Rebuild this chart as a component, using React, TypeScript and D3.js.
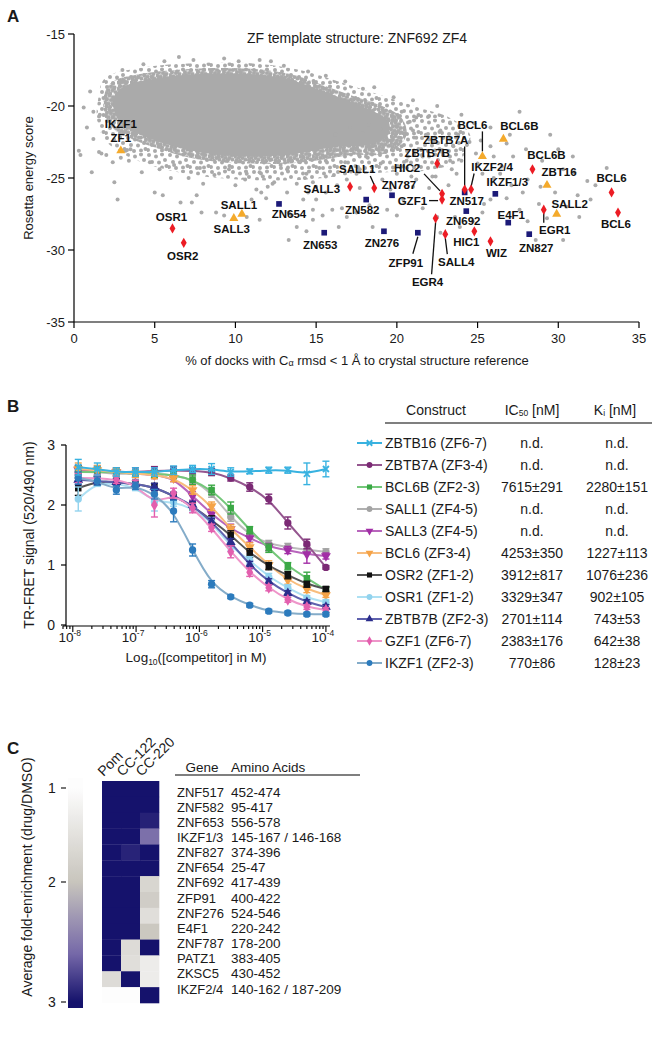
import React from 'react';
import * as d3 from 'd3';

const FONT = '"Liberation Sans", Arial, Helvetica, sans-serif';
const INK = '#1a1a1a';

// ================= Panel A data =================
const A_TITLE = 'ZF template structure: ZNF692 ZF4';
const A_X_TICKS = [0, 5, 10, 15, 20, 25, 30, 35];
const A_Y_TICKS = [-15, -20, -25, -30, -35];

// outline of the solid centre of the decoy cloud (x %, energy)
const DECOY_INNER: [number, number][] = [
  [2.5, -19.3], [3.2, -18.6], [4.5, -18.2], [6.3, -17.9], [8.7, -17.75], [11.2, -17.8], [13.3, -18.15], [15.0, -18.8],
  [16.8, -19.55], [18.4, -20.3], [19.5, -21.1], [19.4, -22.1], [18.2, -22.7], [16.5, -22.8], [14.8, -23.1], [13.2, -23.4],
  [11.2, -23.5], [9.1, -23.4], [7.3, -23.1], [5.6, -22.6], [4.1, -22.0], [3.0, -21.3], [2.5, -20.4],
];
// outline of the densest part of the decoy cloud
const DECOY_CORE: [number, number][] = [
  [1.86, -19.24], [2.35, -18.33], [4.09, -17.78], [6.26, -17.5], [8.74, -17.36], [11.21, -17.43], [13.38, -17.78],
  [15.24, -18.47], [17.1, -19.24], [18.96, -19.93], [20.3, -20.83], [20.6, -22.0], [19.9, -23.0], [18.8, -23.4],
  [17.2, -23.4], [15.55, -23.7], [13.38, -24.0], [11.21, -24.0], [9.05, -23.9], [7.19, -23.6], [5.33, -23.0],
  [3.78, -22.4], [2.54, -21.67], [1.92, -20.63],
];
// outline of the looser halo around it
const DECOY_HALO: [number, number][] = [
  [1.49, -19.58], [1.92, -18.06], [4.09, -17.36], [7.81, -17.01], [11.52, -17.08], [14.0, -17.5], [16.48, -18.33],
  [18.96, -19.24], [21.44, -20.14], [23.3, -20.83], [24.54, -22.01], [23.92, -23.75], [22.06, -24.44], [19.58, -24.58],
  [17.1, -24.79], [14.0, -25.14], [10.9, -25.14], [7.81, -24.86], [5.33, -24.31], [3.16, -23.4], [1.92, -22.36],
  [1.43, -20.97],
];

// scattered decoys outside the dense cloud
const DECOY_POINTS: [number, number][] = [
  [0.3, -23.1], [0.4, -23.4], [0.6, -20.1], [1.1, -24.6], [1.2, -20.4], [1.6, -20.6], [1.55, -23.2], [1.7, -23.3],
  [2.0, -23.4], [2.5, -25.3], [2.7, -26.5], [2.9, -23.6], [3.2, -23.1], [3.5, -23.0], [3.4, -23.8], [4.7, -23.9],
  [5.0, -26.0], [5.3, -24.4], [5.5, -26.2], [6.2, -24.1], [6.6, -26.7], [7.1, -25.0], [7.3, -26.7], [7.6, -26.2],
  [7.8, -24.3], [7.9, -27.4], [8.7, -24.8], [8.8, -27.4], [9.3, -27.6], [9.6, -24.4], [10.6, -25.1], [10.7, -24.7],
  [10.7, -27.7], [11.0, -26.5], [11.3, -25.8], [11.5, -24.6], [11.5, -27.9], [11.6, -26.0], [11.7, -24.9], [11.9, -26.4],
  [12.3, -25.4], [12.4, -25.3], [12.8, -24.1], [13.2, -24.4], [13.2, -26.0], [13.3, -27.4], [13.3, -29.3], [13.5, -27.6],
  [13.8, -25.4], [13.8, -28.4], [14.0, -23.9], [14.2, -26.5], [14.3, -25.0], [14.4, -24.7], [14.4, -28.7], [14.5, -26.0],
  [14.8, -27.2], [14.8, -27.9], [15.0, -25.6], [15.0, -26.5], [15.2, -24.3], [15.4, -27.6], [15.6, -24.9], [15.6, -26.0],
  [15.6, -23.8], [16.0, -27.2], [16.1, -24.8], [16.2, -22.0], [16.3, -25.5], [16.4, -28.4], [16.6, -27.1], [16.8, -23.9],
  [16.9, -25.1], [16.9, -27.7], [17.1, -21.5], [17.2, -23.0], [17.5, -24.7], [17.5, -27.4], [17.7, -23.5], [17.7, -24.4],
  [17.7, -25.7], [17.9, -21.9], [18.2, -23.6], [18.3, -26.9], [18.3, -21.3], [18.5, -22.8], [18.5, -28.4], [19.0, -21.6],
  [19.0, -24.0], [19.1, -25.1], [19.3, -23.2], [19.4, -27.2], [19.6, -22.4], [19.6, -25.8], [19.5, -21.0], [20.0, -21.4],
  [20.0, -24.7], [20.0, -27.6], [20.3, -20.4], [20.3, -22.8], [20.4, -21.9], [20.4, -24.2], [20.4, -26.5], [20.6, -23.8],
  [20.8, -21.1], [21.0, -21.7], [21.0, -25.6], [21.2, -20.8], [21.2, -22.2], [21.2, -25.1], [21.5, -23.0], [21.6, -23.5],
  [21.6, -27.1], [21.8, -22.0], [22.0, -20.7], [22.0, -25.7], [22.2, -24.9], [22.3, -22.5], [22.5, -27.7], [22.7, -21.7],
  [22.7, -28.8], [22.8, -23.2], [23.2, -25.5], [23.3, -21.2], [23.3, -23.8], [23.5, -22.8], [23.6, -27.7], [23.7, -24.7],
  [23.8, -22.0], [23.9, -28.4], [24.0, -23.8], [24.5, -22.5], [24.7, -28.0], [25.0, -24.0], [25.3, -24.7], [25.3, -27.4],
  [25.4, -26.8], [25.8, -21.5], [25.8, -22.8], [25.8, -26.5], [26.0, -23.5], [26.0, -25.0], [26.4, -24.7], [26.5, -24.2],
  [26.8, -22.6], [26.8, -26.4], [27.0, -22.0], [27.1, -25.5], [27.2, -23.5], [27.6, -20.4], [27.6, -27.2], [27.8, -26.0],
  [28.0, -23.0], [28.1, -25.1], [28.1, -28.0], [28.6, -29.3], [28.8, -26.8], [28.9, -25.6], [29.0, -23.8], [29.3, -27.8],
  [29.5, -22.0], [29.8, -26.0], [30.0, -23.0], [30.3, -24.4], [30.3, -29.3], [30.5, -27.0], [30.9, -23.5], [31.0, -24.6],
  [31.2, -26.2], [31.3, -27.7], [31.8, -25.2], [32.0, -26.5], [32.3, -25.5], [33.0, -24.3],
  [4.3, -17.1], [5.6, -16.9], [7.4, -16.8], [9.3, -16.7], [10.2, -16.9], [11.5, -16.8], [13.0, -17.2], [14.5, -17.6],
  [15.6, -17.9], [16.8, -18.3], [17.9, -18.8], [19.8, -19.4], [21.0, -19.6], [22.5, -20.0], [24.0, -20.6], [24.8, -21.2],
  [25.2, -22.4], [24.9, -23.3], [1.0, -19.0], [0.8, -21.5], [1.2, -22.3], [2.4, -23.9], [4.2, -24.6], [6.0, -25.0],
  [8.0, -25.4], [10.0, -25.5], [12.0, -25.6], [14.8, -25.3], [3.0, -17.5], [6.5, -16.6], [12.2, -16.9], [18.6, -18.7],
  [22.4, -24.9], [23.4, -24.4], [20.9, -24.9],
];

const HIT_NAMES = ['IKZF1|ZF1', 'OSR1', 'OSR2', 'SALL1', 'SALL3', 'ZN654', 'ZN653', 'SALL3', 'SALL1', 'ZN787', 'ZN582',
  'ZN276', 'ZFP91', 'EGR4', 'SALL4', 'HIC1', 'WIZ', 'ZN692', 'GZF1', 'ZN517', 'HIC2', 'ZBTB7B', 'ZBTB7A', 'IKZF2/4',
  'BCL6', 'BCL6B', 'BCL6B', 'ZBT16', 'BCL6', 'BCL6', 'IKZF1/3', 'SALL2', 'EGR1', 'E4F1', 'ZN827'];
const HIT_X = [2.9, 6.1, 6.8, 10.4, 9.9, 12.7, 15.5, 17.1, 18.6, 19.7, 18.1, 19.2, 21.3, 22.4, 23.0, 24.8, 25.8, 24.3,
  22.8, 24.2, 22.8, 22.5, 24.2, 24.6, 25.3, 26.6, 28.4, 29.3, 33.3, 33.7, 26.1, 29.9, 29.1, 26.9, 28.2];
const HIT_Y = [-23.1, -28.5, -29.5, -27.5, -27.8, -26.8, -28.8, -25.6, -25.7, -26.2, -26.5, -28.7, -28.8, -27.8, -28.9,
  -28.7, -29.4, -27.3, -26.5, -26.0, -26.1, -24.0, -25.8, -25.8, -23.5, -22.3, -24.4, -25.5, -26.0, -27.4, -26.1,
  -27.5, -27.2, -28.1, -28.9];
const HIT_KIND = ['tri', 'red', 'red', 'tri', 'tri', 'sq', 'sq', 'red', 'red', 'sq', 'sq', 'sq', 'sq', 'red', 'red', 'red',
  'red', 'sq', 'red', 'sq', 'red', 'red', 'red', 'red', 'tri', 'tri', 'red', 'tri', 'red', 'red', 'sq', 'tri', 'red', 'sq', 'sq'];

// label placement relative to each marker (pixels)
const HIT_LABEL_LAYOUT: { dx: number; dy: number; anchor?: string; line?: number[] }[] = [
  { dx: 0, dy: -27 }, { dx: -1, dy: -11 }, { dx: -1, dy: 13 }, { dx: -3, dy: -9 }, { dx: -2, dy: 11 },
  { dx: 10, dy: 10 }, { dx: -4, dy: 12 }, { dx: -10, dy: 2, anchor: 'end' },
  { dx: -17, dy: -19, line: [-4, -12, 0, -3] }, { dx: 7, dy: -10 }, { dx: -4, dy: 10 }, { dx: -2, dy: 12 },
  { dx: -12, dy: 30, line: [0, 4, -5, 21] }, { dx: -8, dy: 64, line: [0, 4, -4, 56] },
  { dx: 11, dy: 28, line: [0, 4, 2, 20] }, { dx: -8, dy: 11 }, { dx: 6, dy: 12 }, { dx: -3, dy: 10 },
  { dx: -15, dy: 1, anchor: 'end', line: [-13, 1, -4, 1] }, { dx: 2, dy: 9 },
  { dx: -35, dy: -26, line: [-18, -20, -2, -3] }, { dx: -10, dy: -11 }, { dx: -19, dy: -50, line: [0, -43, 0, -3] },
  { dx: 21, dy: -23, line: [3, -16, 0, -3] }, { dx: -10, dy: -31, line: [0, -25, 0, -5] }, { dx: 16, dy: -13 },
  { dx: 14, dy: -14 }, { dx: 12, dy: -13 }, { dx: 0, dy: -14 }, { dx: -2, dy: 11 }, { dx: 12, dy: -12 },
  { dx: 13, dy: -10 }, { dx: 11, dy: 20, line: [0, 3, 0, 13] }, { dx: 3, dy: -8 }, { dx: 7, dy: 14 },
];

// ================= Panel B data =================
const CONC = [1.22e-8, 2.44e-8, 4.88e-8, 9.77e-8, 1.95e-7, 3.91e-7, 7.81e-7, 1.56e-6, 3.13e-6, 6.25e-6, 1.25e-5, 2.5e-5, 5e-5, 1e-4];
const B_Y_TICKS = [0, 1, 2, 3];
const B_X_DECADES = [-8, -7, -6, -5, -4];

const CONSTRUCTS = ['ZBTB16 (ZF6-7)', 'ZBTB7A (ZF3-4)', 'BCL6B (ZF2-3)', 'SALL1 (ZF4-5)', 'SALL3 (ZF4-5)',
  'BCL6 (ZF3-4)', 'OSR2 (ZF1-2)', 'OSR1 (ZF1-2)', 'ZBTB7B (ZF2-3)', 'GZF1 (ZF6-7)', 'IKZF1 (ZF2-3)'];
const IC50 = ['n.d.', 'n.d.', '7615±291', 'n.d.', 'n.d.', '4253±350', '3912±817', '3329±347', '2701±114', '2383±176', '770±86'];
const KI = ['n.d.', 'n.d.', '2280±151', 'n.d.', 'n.d.', '1227±113', '1076±236', '902±105', '743±53', '642±38', '128±23'];

const SIG_ZBTB16 = [2.63, 2.6, 2.55, 2.55, 2.55, 2.58, 2.6, 2.6, 2.55, 2.56, 2.58, 2.58, 2.52, 2.6];
const ERR_ZBTB16 = [0.13, 0.1, 0.07, 0.07, 0.07, 0.07, 0.06, 0.09, 0.07, 0.04, 0.05, 0.05, 0.18, 0.13];
const SIG_ZBTB7A = [2.55, 2.57, 2.55, 2.55, 2.57, 2.58, 2.57, 2.55, 2.45, 2.3, 2.1, 1.7, 1.35, 0.96];
const ERR_ZBTB7A = [0.1, 0.08, 0.07, 0.07, 0.07, 0.06, 0.05, 0.06, 0.05, 0.07, 0.08, 0.1, 0.08, 0.03];
const SIG_BCL6B = [2.55, 2.55, 2.55, 2.52, 2.52, 2.5, 2.42, 2.25, 1.95, 1.58, 1.28, 0.98, 0.78, 0.58];
const ERR_BCL6B = [0.1, 0.08, 0.06, 0.06, 0.06, 0.06, 0.08, 0.08, 0.1, 0.06, 0.07, 0.06, 0.1, 0.05];
const SIG_SALL1 = [2.55, 2.55, 2.52, 2.52, 2.52, 2.5, 2.42, 2.2, 1.8, 1.5, 1.35, 1.3, 1.25, 1.22];
const ERR_SALL1 = [0.08, 0.07, 0.06, 0.06, 0.06, 0.06, 0.06, 0.07, 0.07, 0.06, 0.06, 0.06, 0.06, 0.05];
const SIG_SALL3 = [2.58, 2.55, 2.55, 2.52, 2.5, 2.45, 2.15, 1.85, 1.6, 1.45, 1.3, 1.25, 1.18, 1.15];
const ERR_SALL3 = [0.08, 0.07, 0.06, 0.06, 0.06, 0.06, 0.07, 0.08, 0.08, 0.07, 0.06, 0.06, 0.15, 0.05];
const SIG_BCL6 = [2.6, 2.58, 2.55, 2.52, 2.5, 2.45, 2.25, 1.98, 1.6, 1.3, 1.0, 0.75, 0.6, 0.5];
const ERR_BCL6 = [0.1, 0.08, 0.06, 0.06, 0.06, 0.06, 0.07, 0.07, 0.07, 0.07, 0.07, 0.07, 0.06, 0.04];
const SIG_OSR2 = [2.28, 2.4, 2.38, 2.35, 2.3, 2.15, 1.98, 1.75, 1.5, 1.2, 0.98, 0.83, 0.68, 0.6];
const ERR_OSR2 = [0.12, 0.07, 0.06, 0.06, 0.06, 0.06, 0.06, 0.07, 0.07, 0.07, 0.06, 0.06, 0.05, 0.04];
const SIG_OSR1 = [2.1, 2.38, 2.35, 2.3, 2.05, 2.05, 1.95, 1.72, 1.3, 1.08, 0.8, 0.62, 0.45, 0.38];
const ERR_OSR1 = [0.2, 0.07, 0.06, 0.06, 0.15, 0.07, 0.07, 0.07, 0.07, 0.06, 0.06, 0.05, 0.04, 0.04];
const SIG_ZBTB7B = [2.42, 2.4, 2.38, 2.35, 2.3, 2.15, 2.0, 1.72, 1.38, 1.0, 0.72, 0.53, 0.38, 0.3];
const ERR_ZBTB7B = [0.08, 0.06, 0.06, 0.06, 0.06, 0.06, 0.06, 0.06, 0.06, 0.06, 0.05, 0.04, 0.04, 0.04];
const SIG_GZF1 = [2.45, 2.45, 2.42, 2.35, 2.0, 2.2, 1.95, 1.62, 1.22, 0.88, 0.62, 0.42, 0.3, 0.25];
const ERR_GZF1 = [0.08, 0.06, 0.06, 0.06, 0.2, 0.08, 0.08, 0.06, 0.1, 0.07, 0.05, 0.04, 0.04, 0.04];
const SIG_IKZF1 = [2.45, 2.4, 2.25, 2.32, 2.18, 1.9, 1.25, 0.68, 0.47, 0.33, 0.23, 0.2, 0.18, 0.18];
const ERR_IKZF1 = [0.1, 0.07, 0.07, 0.06, 0.08, 0.18, 0.1, 0.06, 0.03, 0.03, 0.03, 0.03, 0.03, 0.03];

const SERIES_COLORS = ['#38b2e0', '#7b2a74', '#3aa845', '#a3a3a3', '#a22fa6', '#f5a347', '#111111', '#92d3ee', '#2b2d8c', '#e35fae', '#2c7bbd'];
const SERIES_LINE_COLORS = ['#38b2e0', '#95568f', '#74c77a', '#bcbcbc', '#b865bc', '#f8bd7e', '#555555', '#ade0f3', '#5f61ad', '#ee95c9', '#84acc9'];
const SERIES_SYMBOLS = ['x', 'circle', 'square', 'circle', 'triDown', 'triDown', 'square', 'circle', 'tri', 'diamond', 'circle'];

// ================= Panel C data =================
const GENES = ['ZNF517', 'ZNF582', 'ZNF653', 'IKZF1/3', 'ZNF827', 'ZNF654', 'ZNF692', 'ZFP91', 'ZNF276', 'E4F1',
  'ZNF787', 'PATZ1', 'ZKSC5', 'IKZF2/4'];
const AMINO_ACIDS = ['452-474', '95-417', '556-578', '145-167 / 146-168', '374-396', '25-47', '417-439', '400-422',
  '524-546', '220-242', '178-200', '383-405', '430-452', '140-162 / 187-209'];
const DRUGS = ['Pom', 'CC-122', 'CC-220'];
const ENRICH_POM = [3, 3, 3, 3, 3, 3, 3, 3, 3, 3, 3, 3, 1.6, 1.0];
const ENRICH_CC122 = [3, 3, 3, 3, 2.92, 3, 3, 3, 3, 3, 1.6, 1.55, 3, 1.0];
const ENRICH_CC220 = [3, 3, 2.93, 2.55, 3, 3, 1.7, 1.85, 1.55, 1.95, 3, 1.3, 1.3, 3];
const COLORBAR_TICKS = [1, 2, 3];

function symbolPath(kind: string, size: number): string {
  const r = Math.sqrt(size) / 2;
  if (kind === 'x') return `M${-r},${-r}L${r},${r}M${-r},${r}L${r},${-r}`;
  if (kind === 'triDown') return d3.symbol(d3.symbolTriangle, size)()!;
  const t = kind === 'circle' ? d3.symbolCircle : kind === 'square' ? d3.symbolSquare
    : kind === 'tri' ? d3.symbolTriangle : d3.symbolDiamond;
  return d3.symbol(t, size)()!;
}

function Marker({ kind, x, y, color, size }: { kind: string; x: number; y: number; color: string; size: number }) {
  const rot = kind === 'triDown' ? ' rotate(180)' : '';
  if (kind === 'x') {
    return <path d={symbolPath(kind, size)} transform={`translate(${x},${y})`} stroke={color} strokeWidth={1.8} fill="none" />;
  }
  return <path d={symbolPath(kind, size)} transform={`translate(${x},${y})${rot}`} fill={color} />;
}

// texture tiles used to render the dense decoy cloud
const DENSE_DOTS = [[1.5, 1.5], [5.5, 1], [9, 2.5], [3, 4.8], [7, 5.5], [10.5, 6.5], [1, 8], [4.5, 9], [8.5, 9.5], [11.5, 11], [2.5, 11.8], [6, 12.5]];
const HALO_DOTS = [[2, 2], [9, 3.5], [15, 1.5], [5, 9], [12, 9.5], [18, 7], [1, 14], [8, 15], [15, 14.5], [19.5, 13]];

export default function App() {
  // ---------- Panel A ----------
  const ax = d3.scaleLinear().domain([0, 35]).range([74, 639]);
  const ay = d3.scaleLinear().domain([-35, -15]).range([322, 34]);
  const GRAY = '#aaaaaa';
  const outline = d3.line<[number, number]>().x(d => ax(d[0])).y(d => ay(d[1])).curve(d3.curveCatmullRomClosed.alpha(0.5));
  const innerPath = outline(DECOY_INNER) || '';
  const corePath = outline(DECOY_CORE) || '';
  const haloPath = outline(DECOY_HALO) || '';
  const hitColor: Record<string, string> = { red: '#ec1c24', tri: '#f4aa2c', sq: '#1c1a78' };
  const hitSym: Record<string, string> = { red: 'diamond', tri: 'tri', sq: 'square' };
  const hitSize: Record<string, number> = { red: 30, tri: 36, sq: 32 };
  const hitOrder = ['sq', 'tri', 'red'];

  // ---------- Panel B ----------
  const bx = d3.scaleLog().domain([7e-9, 1.16e-4]).range([63, 330]);
  const by = d3.scaleLinear().domain([0, 3]).range([625, 445]);
  const SIGNALS = [SIG_ZBTB16, SIG_ZBTB7A, SIG_BCL6B, SIG_SALL1, SIG_SALL3, SIG_BCL6, SIG_OSR2, SIG_OSR1, SIG_ZBTB7B, SIG_GZF1, SIG_IKZF1];
  const ERRS = [ERR_ZBTB16, ERR_ZBTB7A, ERR_BCL6B, ERR_SALL1, ERR_SALL3, ERR_BCL6, ERR_OSR2, ERR_OSR1, ERR_ZBTB7B, ERR_GZF1, ERR_IKZF1];
  const series = CONSTRUCTS.map((name, i) => ({
    name, color: SERIES_COLORS[i], lineColor: SERIES_LINE_COLORS[i], sym: SERIES_SYMBOLS[i],
    pts: CONC.map((c, j) => ({ c, v: SIGNALS[i][j], e: ERRS[i][j] })),
  }));
  const curve = d3.line<{ c: number; v: number }>().x(d => bx(d.c)).y(d => by(d.v)).curve(d3.curveBasis);
  const logTicks = bx.ticks();
  const rowY = d3.scalePoint<string>().domain(CONSTRUCTS).range([443, 663]);
  const drawOrder = [3, 4, 1, 2, 5, 6, 7, 8, 9, 10, 0];

  // ---------- Panel C ----------
  const cCol = d3.scaleBand<string>().domain(DRUGS).range([102, 159]);
  const cRow = d3.scaleBand<string>().domain(GENES).range([781, 1003]);
  const cText = d3.scalePoint<string>().domain(GENES).range([792, 989]);
  const cColor = d3.scaleLinear<string>().domain([1, 2, 2.6, 3]).range(['#fdfdfd', '#c8c5bd', '#7568a8', '#15126c']);
  const cbPos = d3.scaleLinear().domain([1, 2, 3]).range([788, 882, 1002]);
  const cbTop = 778, cbBottom = 1008;
  const cbStops = d3.range(0.9, 3.06, 0.05).map(v => ({
    off: Math.max(0, Math.min(1, (cbPos(v) - cbTop) / (cbBottom - cbTop))),
    col: cColor(Math.max(1, Math.min(3, v))),
  }));
  const ENRICH = [ENRICH_POM, ENRICH_CC122, ENRICH_CC220];

  return (
    <svg width={654} height={1050} style={{ position: 'absolute', left: 0, top: 0, background: '#fff' }} fontFamily={FONT}>
      <defs>
        <linearGradient id="cbGrad" x1="0" y1="0" x2="0" y2="1">
          {cbStops.map((s, i) => <stop key={i} offset={s.off} stopColor={s.col} />)}
        </linearGradient>
        <pattern id="denseDots" width={13} height={13.5} patternUnits="userSpaceOnUse">
          {DENSE_DOTS.map((p, i) => <circle key={i} cx={p[0]} cy={p[1]} r={2.1} fill={GRAY} />)}
        </pattern>
        <pattern id="haloDots" width={21} height={17} patternUnits="userSpaceOnUse">
          {HALO_DOTS.map((p, i) => <circle key={i} cx={p[0]} cy={p[1]} r={2} fill={GRAY} />)}
        </pattern>
      </defs>

      {/* ================= Panel A ================= */}
      <text x={7} y={22} fontSize={17} fontWeight="bold" fill={INK}>A</text>
      <text x={357} y={38} textAnchor="middle" dominantBaseline="central" fontSize={14} fill={INK}>{A_TITLE}</text>
      <path d={haloPath} fill="url(#haloDots)" />
      <path d={corePath} fill="url(#denseDots)" />
      <path d={innerPath} fill={GRAY} />
      {DECOY_POINTS.map(([x, y], i) => <circle key={i} cx={ax(x)} cy={ay(y)} r={2} fill={GRAY} />)}

      {/* axes */}
      <line x1={ax(0)} x2={ax(0)} y1={ay(-15)} y2={ay(-35)} stroke="#000" strokeWidth={1.2} />
      <line x1={ax(0)} x2={ax(35)} y1={ay(-35)} y2={ay(-35)} stroke="#000" strokeWidth={1.2} />
      {A_Y_TICKS.map(t => (
        <g key={t}>
          <line x1={ax(0) - 6} x2={ax(0)} y1={ay(t)} y2={ay(t)} stroke="#000" strokeWidth={1.2} />
          <text x={ax(0) - 9} y={ay(t)} textAnchor="end" dominantBaseline="central" fontSize={13} fill={INK}>{t}</text>
        </g>
      ))}
      {A_X_TICKS.map(t => (
        <g key={t}>
          <line x1={ax(t)} x2={ax(t)} y1={ay(-35)} y2={ay(-35) + 6} stroke="#000" strokeWidth={1.2} />
          <text x={ax(t)} y={ay(-35) + 16} textAnchor="middle" dominantBaseline="central" fontSize={13} fill={INK}>{t}</text>
        </g>
      ))}
      <text transform={`translate(28,${ay(-25)}) rotate(-90)`} textAnchor="middle" dominantBaseline="central" fontSize={13} fill={INK}>Rosetta energy score</text>
      <text x={357} y={360} textAnchor="middle" dominantBaseline="central" fontSize={13} fill={INK}>
        <tspan>% of docks with C</tspan><tspan fontSize={9} dy={3}>α</tspan><tspan dy={-3}> rmsd &lt; 1 Å to crystal structure reference</tspan>
      </text>

      {/* leader lines */}
      {HIT_NAMES.map((n, i) => {
        const L = HIT_LABEL_LAYOUT[i];
        if (!L.line) return null;
        const px = ax(HIT_X[i]), py = ay(HIT_Y[i]);
        return <line key={'l' + i} x1={px + L.line[0]} y1={py + L.line[1]} x2={px + L.line[2]} y2={py + L.line[3]} stroke="#111" strokeWidth={1.3} />;
      })}
      {/* markers */}
      {hitOrder.map(k => HIT_NAMES.map((n, i) => HIT_KIND[i] !== k ? null : (
        <Marker key={k + i} kind={hitSym[k]} x={ax(HIT_X[i])} y={ay(HIT_Y[i])} color={hitColor[k]} size={hitSize[k]} />
      )))}
      {/* labels */}
      {HIT_NAMES.map((n, i) => {
        const L = HIT_LABEL_LAYOUT[i];
        const px = ax(HIT_X[i]) + L.dx, py = ay(HIT_Y[i]) + L.dy;
        const lines = n.split('|');
        return lines.map((s, k) => (
          <text key={'t' + i + '_' + k} x={px} y={py + k * 14} textAnchor={L.anchor || 'middle'} dominantBaseline="central"
            fontSize={11.5} fontWeight="bold" fill="#111">{s}</text>
        ));
      })}

      {/* ================= Panel B ================= */}
      <text x={7} y={412} fontSize={17} fontWeight="bold" fill={INK}>B</text>
      <line x1={66} x2={66} y1={by(3)} y2={by(0) + 1} stroke="#000" strokeWidth={1.2} />
      <line x1={bx(7e-9)} x2={bx(1.16e-4)} y1={by(0) + 1} y2={by(0) + 1} stroke="#000" strokeWidth={1.2} />
      {B_Y_TICKS.map(t => (
        <g key={t}>
          <line x1={61} x2={66} y1={by(t)} y2={by(t)} stroke="#000" strokeWidth={1.2} />
          <text x={55} y={by(t)} textAnchor="end" dominantBaseline="central" fontSize={14} fill={INK}>{t}</text>
        </g>
      ))}
      {logTicks.map((t, i) => {
        const major = Math.abs(Math.log10(t) - Math.round(Math.log10(t))) < 1e-6;
        return <line key={i} x1={bx(t)} x2={bx(t)} y1={by(0) + 1} y2={by(0) + (major ? 7 : 4)} stroke="#000" strokeWidth={1.1} />;
      })}
      {B_X_DECADES.map(k => (
        <text key={k} x={bx(Math.pow(10, k)) - 3} y={642} textAnchor="middle" fontSize={13.5} fill={INK}>
          <tspan>10</tspan><tspan fontSize={8.5} dy={-6}>{k}</tspan>
        </text>
      ))}
      <text x={196} y={662} textAnchor="middle" fontSize={13.5} fill={INK}>
        <tspan>Log</tspan><tspan fontSize={8.5} dy={3}>10</tspan><tspan dy={-3}>([competitor] in M)</tspan>
      </text>
      <text transform={`translate(29,535) rotate(-90)`} textAnchor="middle" dominantBaseline="central" fontSize={14} fill={INK}>TR-FRET signal (520/490 nm)</text>

      {drawOrder.map(i => {
        const s = series[i];
        return (
          <g key={s.name}>
            <path d={curve(s.pts) || ''} fill="none" stroke={s.lineColor} strokeWidth={2} />
            {s.pts.map((p, j) => {
              const x = bx(p.c), y1 = by(p.v + p.e), y2 = by(p.v - p.e);
              return (
                <g key={j}>
                  <line x1={x} x2={x} y1={y1} y2={y2} stroke={s.color} strokeWidth={1.4} />
                  <line x1={x - 3.5} x2={x + 3.5} y1={y1} y2={y1} stroke={s.color} strokeWidth={1.4} />
                  <line x1={x - 3.5} x2={x + 3.5} y1={y2} y2={y2} stroke={s.color} strokeWidth={1.4} />
                  <Marker kind={s.sym} x={x} y={by(p.v)} color={s.color} size={s.sym === 'x' ? 36 : 42} />
                </g>
              );
            })}
          </g>
        );
      })}

      {/* table */}
      <text x={436} y={410} textAnchor="middle" dominantBaseline="central" fontSize={14} fill={INK}>Construct</text>
      <text x={532} y={410} textAnchor="middle" dominantBaseline="central" fontSize={14} fill={INK}>
        <tspan>IC</tspan><tspan fontSize={8.5} dy={3}>50</tspan><tspan dy={-3}> [nM]</tspan>
      </text>
      <text x={615} y={410} textAnchor="middle" dominantBaseline="central" fontSize={14} fill={INK}>
        <tspan>K</tspan><tspan fontSize={8.5} dy={3}>i</tspan><tspan dy={-3}> [nM]</tspan>
      </text>
      <line x1={385} x2={652} y1={423} y2={423} stroke="#000" strokeWidth={1.2} />
      {series.map((s, i) => {
        const y = rowY(s.name)!;
        return (
          <g key={'r' + i}>
            <line x1={357} x2={382} y1={y} y2={y} stroke={s.lineColor === '#bcbcbc' ? '#b0b0b0' : s.lineColor} strokeWidth={2} />
            <Marker kind={s.sym} x={369.5} y={y} color={s.color} size={s.sym === 'x' ? 30 : 26} />
            <text x={385} y={y} dominantBaseline="central" fontSize={14} fill={INK}>{s.name}</text>
            <text x={532} y={y} textAnchor="middle" dominantBaseline="central" fontSize={14} fill={INK}>{IC50[i]}</text>
            <text x={617} y={y} textAnchor="middle" dominantBaseline="central" fontSize={14} fill={INK}>{KI[i]}</text>
          </g>
        );
      })}

      {/* ================= Panel C ================= */}
      <text x={7} y={754} fontSize={17} fontWeight="bold" fill={INK}>C</text>
      <rect x={68} y={cbTop} width={15} height={cbBottom - cbTop} fill="url(#cbGrad)" />
      {COLORBAR_TICKS.map(t => (
        <g key={t}>
          <text x={52} y={cbPos(t)} textAnchor="middle" dominantBaseline="central" fontSize={14} fill={INK}>{t}</text>
          <line x1={61} x2={66} y1={cbPos(t)} y2={cbPos(t)} stroke={INK} strokeWidth={1.2} />
        </g>
      ))}
      <text transform={`translate(27,877) rotate(-90)`} textAnchor="middle" dominantBaseline="central" fontSize={14} fill={INK}>Average fold-enrichment (drug/DMSO)</text>

      {DRUGS.map((d, ci) => GENES.map((g, ri) => (
        <rect key={d + g} x={cCol(d)!} y={cRow(g)!} width={cCol.bandwidth() + 0.3} height={cRow.bandwidth() + 0.3}
          fill={cColor(ENRICH[ci][ri])} />
      )))}
      {DRUGS.map(d => (
        <text key={d} transform={`translate(${cCol(d)! + cCol.bandwidth() / 2 - 8},777) rotate(-45)`} fontSize={14} fill={INK}>{d}</text>
      ))}
      <text x={202} y={767} textAnchor="middle" dominantBaseline="central" fontSize={13.5} fill={INK}>Gene</text>
      <text x={231} y={767} dominantBaseline="central" fontSize={13.5} fill={INK}>Amino Acids</text>
      <line x1={175} x2={360} y1={775} y2={775} stroke="#000" strokeWidth={1.2} />
      {GENES.map((g, i) => (
        <g key={'g' + g}>
          <text x={177} y={cText(g)!} dominantBaseline="central" fontSize={13} fill={INK}>{g}</text>
          <text x={231} y={cText(g)!} dominantBaseline="central" fontSize={13.5} fill={INK}>{AMINO_ACIDS[i]}</text>
        </g>
      ))}
    </svg>
  );
}
